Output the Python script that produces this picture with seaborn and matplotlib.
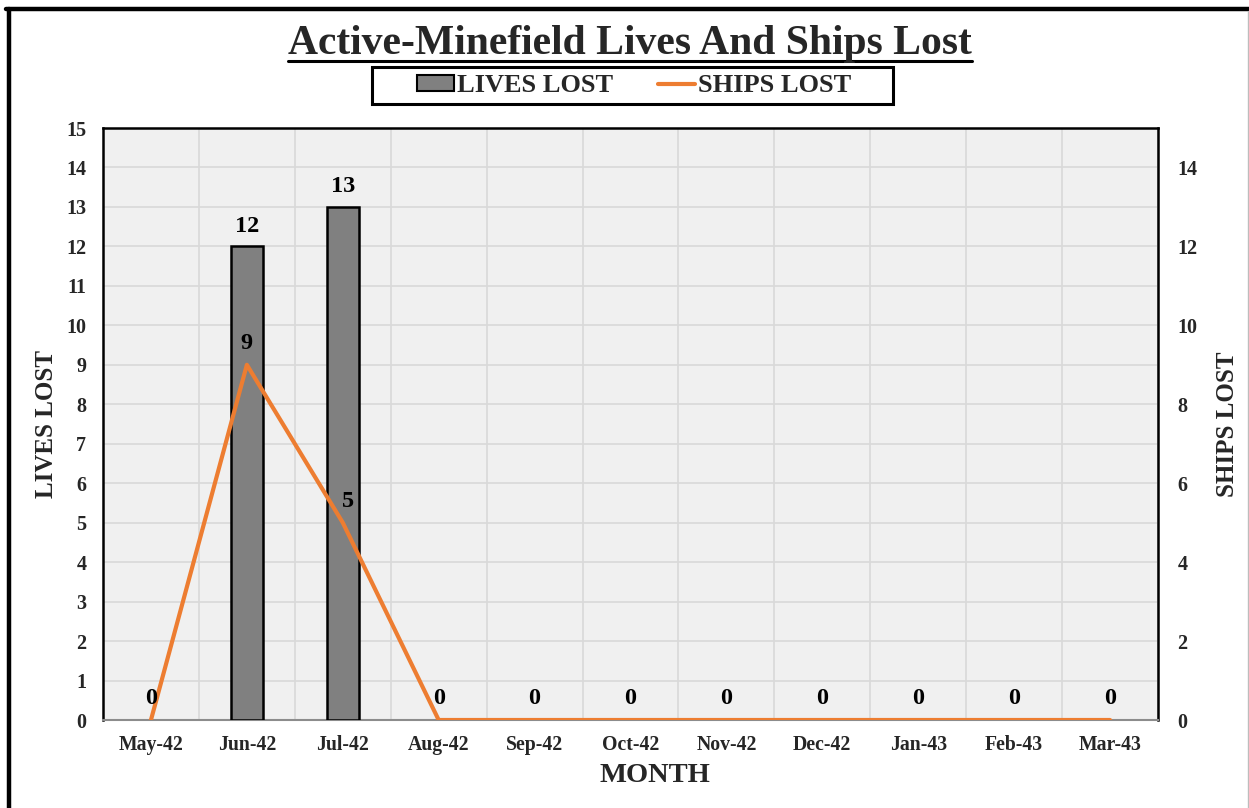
import numpy as np
import pandas as pd
import matplotlib
matplotlib.use("Agg")
import matplotlib.pyplot as plt
from matplotlib.lines import Line2D
from matplotlib.patches import Patch, Rectangle
import seaborn as sns

months = ["May-42", "Jun-42", "Jul-42", "Aug-42", "Sep-42", "Oct-42",
          "Nov-42", "Dec-42", "Jan-43", "Feb-43", "Mar-43"]
lives_lost = [0, 12, 13, 0, 0, 0, 0, 0, 0, 0, 0]
ships_lost = [0, 9, 5, 0, 0, 0, 0, 0, 0, 0, 0]
left_ticks = list(range(0, 16))
right_ticks = list(range(0, 15, 2))

df = pd.DataFrame({"month": months, "lives": lives_lost, "ships": ships_lost})
df["pos"] = np.arange(len(df))

sns.set_theme(style="white")
plt.rcParams["font.family"] = ["Liberation Serif", "DejaVu Serif"]
plt.rcParams["font.weight"] = "bold"

BAR = "#808080"
LINE = "#ED7D31"
GRID = "#D9D9D9"

fig = plt.figure(figsize=(12.49, 8.08), dpi=100)
fig.patch.set_facecolor("white")
W, H = fig.bbox.width, fig.bbox.height
ax = fig.add_axes([103 / W, 1 - 720 / H, (1158 - 103) / W, (720 - 128) / H])
ax.set_facecolor("#F0F0F0")

sns.barplot(data=df, x="month", y="lives", order=months, color=BAR,
            width=0.33, edgecolor="black", linewidth=1.8, saturation=1,
            ax=ax, zorder=3)
# empty months have no bar outline
for patch in ax.patches:
    if patch.get_height() == 0:
        patch.set_visible(False)

n = len(months)
ax.set_xlim(-0.5, n - 0.5)
ax.set_ylim(0, 15)
ax.set_yticks(left_ticks)
ax.set_yticklabels([str(t) for t in left_ticks], fontsize=14.5, fontweight="bold")
ax.set_xticks(np.arange(n))
ax.set_xticklabels(months, fontsize=14.2, fontweight="bold")
ax.set_xticks(np.arange(-0.5, n), minor=True)
ax.tick_params(axis="both", which="both", length=0)
ax.tick_params(axis="y", pad=12)
ax.tick_params(axis="x", pad=11)
ax.grid(False)
ax.yaxis.grid(True, color=GRID, linewidth=1.2, zorder=0)
ax.xaxis.grid(True, which="minor", color=GRID, linewidth=1.2, zorder=0)
ax.set_axisbelow(True)
ax.set_xlabel("MONTH", fontsize=20.5, fontweight="bold")
ax.xaxis.set_label_coords((655 - 103) / 1055, -(776 - 720) / 592)
ax.xaxis.label.set_va("center")
ax.set_ylabel("LIVES LOST", fontsize=18, fontweight="bold")
ax.yaxis.set_label_coords((47 - 103) / 1055, 0.5)
ax.yaxis.label.set_va("center")
for side in ["left", "right", "top"]:
    ax.spines[side].set_color("black")
    ax.spines[side].set_linewidth(1.8)
ax.spines["bottom"].set_color("#8C8C8C")
ax.spines["bottom"].set_linewidth(1.5)

# value labels above the bars
for p, v in zip(df["pos"], df["lives"]):
    if v > 0:
        ax.annotate(str(v), (p, v), xytext=(0, 7), textcoords="offset points",
                    ha="center", va="bottom", fontsize=17.5, fontweight="bold",
                    color="black", zorder=6)

ax2 = ax.twinx()
sns.lineplot(data=df, x="pos", y="ships", color=LINE, linewidth=3,
             ax=ax2, zorder=4)
ax2.set_xlim(-0.5, n - 0.5)
ax2.set_ylim(0, 15)
ax2.set_yticks(right_ticks)
ax2.set_yticklabels([str(t) for t in right_ticks], fontsize=14.5, fontweight="bold")
ax2.tick_params(axis="y", length=0, pad=14)
ax2.set_ylabel("SHIPS LOST", fontsize=18, fontweight="bold")
ax2.yaxis.set_label_coords((1228 - 103) / 1055, 0.5)
ax2.yaxis.label.set_va("center")
ax2.grid(False)
for s in ax2.spines.values():
    s.set_visible(False)

for p, v in zip(df["pos"], df["ships"]):
    dx = 4 if v == 5 else 0
    ax2.annotate(str(v), (p, v), xytext=(dx, 8), textcoords="offset points",
                 ha="center", va="bottom", fontsize=17.5, fontweight="bold",
                 color="black", zorder=6)

# title with underline
title = fig.text(630 / W, 1 - 44 / H, "Active-Minefield Lives And Ships Lost",
                 ha="center", va="center", fontsize=30, fontweight="bold")
fig.canvas.draw()
bb = title.get_window_extent(renderer=fig.canvas.get_renderer())
uy = (bb.y0 + 2) / H
fig.add_artist(Line2D([bb.x0 / W, bb.x1 / W], [uy, uy], color="black",
                      linewidth=2.2, transform=fig.transFigure))

# legend: entries inside a framed box
handles = [Patch(facecolor=BAR, edgecolor="black", linewidth=1.5),
           Line2D([0], [0], color=LINE, linewidth=3)]
leg = fig.legend(handles, ["LIVES LOST", "SHIPS LOST"], ncol=2,
                 loc="center", bbox_to_anchor=(634 / W, 1 - 86 / H),
                 frameon=False,
                 prop={"family": "Liberation Serif", "weight": "bold", "size": 19},
                 handlelength=1.4, handleheight=0.55, handletextpad=0.12,
                 columnspacing=1.7, borderpad=0.2, borderaxespad=0)
fig.add_artist(Rectangle((372 / W, 1 - 104 / H), (893 - 372) / W, 37 / H,
                         transform=fig.transFigure, facecolor="none",
                         edgecolor="black", linewidth=2.2, zorder=5))

# outer frame
fig.add_artist(Line2D([6 / W, 1], [1 - 9 / H, 1 - 9 / H], color="black",
                      linewidth=3.2, transform=fig.transFigure))
fig.add_artist(Line2D([9 / W, 9 / W], [0, 1 - 9 / H], color="black",
                      linewidth=3.2, transform=fig.transFigure))
fig.add_artist(Line2D([1247.5 / W, 1247.5 / W], [0, 1 - 11 / H], color="#BDBDBD",
                      linewidth=1.0, transform=fig.transFigure))

fig.savefig("out.png", dpi=100)
